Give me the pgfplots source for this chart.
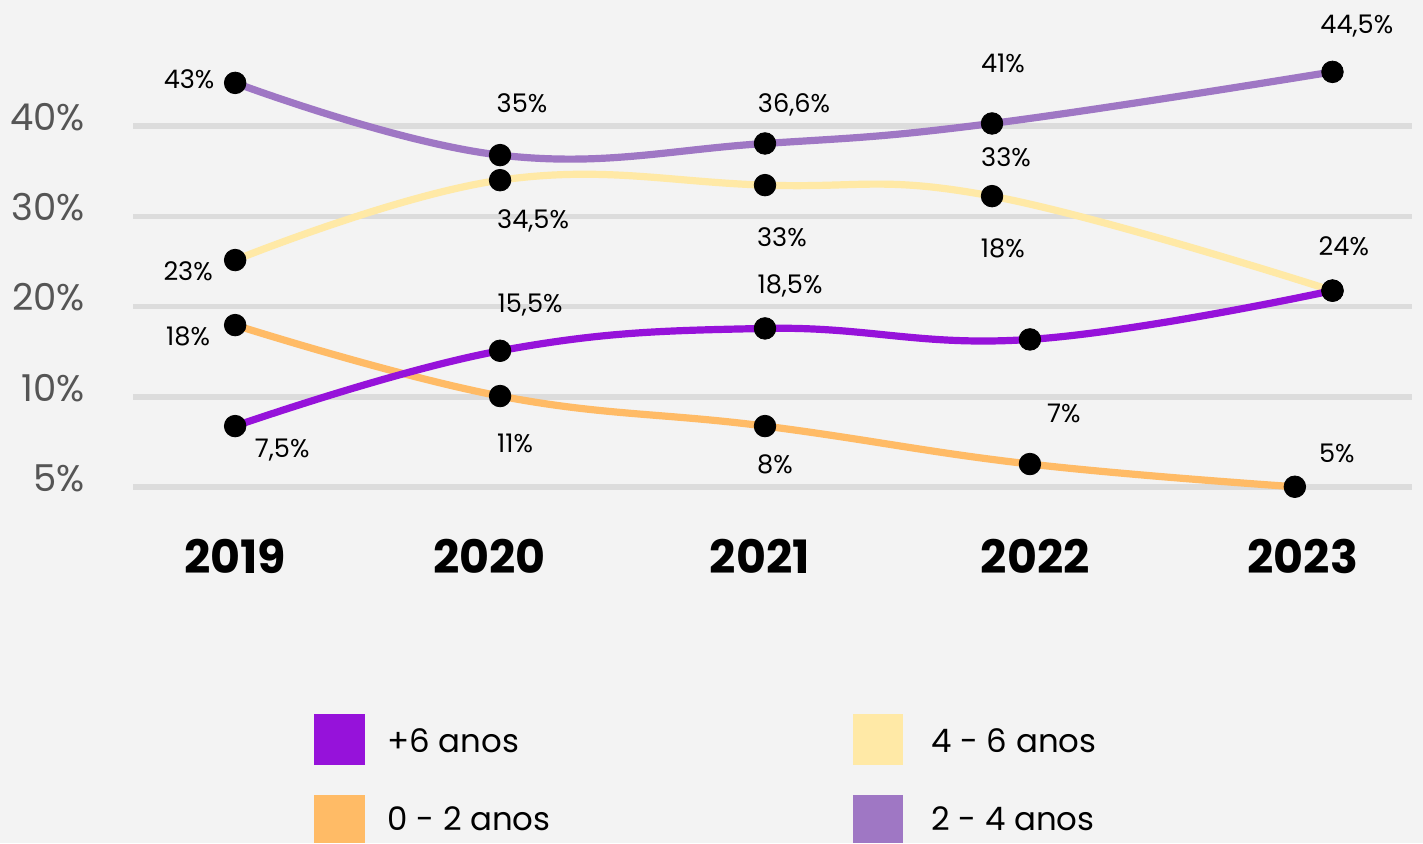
\documentclass[border=0pt]{standalone}
\usepackage{pgfplots}
\pgfplotsset{compat=1.18}
\usepackage{fontspec}
\setmainfont{Poppins}
\definecolor{bg}{HTML}{F3F3F3}
\definecolor{gridc}{HTML}{DCDCDC}
\definecolor{tickc}{HTML}{555555}
\definecolor{dpurple}{HTML}{9612DA}
\definecolor{lpurple}{HTML}{9F77C4}
\definecolor{yellow}{HTML}{FFE9A6}
\definecolor{orange}{HTML}{FFBB66}

\pgfplotsset{
  serie/.style={smooth, tension=0.7, line width=3.6pt, #1, mark=*, mark size=5.4pt,
    mark options={fill=black, draw=black, line width=0.4pt}},
}
\tikzset{
  val/.style={anchor=base, inner sep=0pt, font=\fontsize{12.8}{12.8}\selectfont},
  leg/.style={anchor=base west, inner sep=0pt, font=\fontsize{16.2}{16.2}\selectfont},
}

\begin{document}
\begin{tikzpicture}
\begin{axis}[
  width=711.5pt, height=421.5pt, scale only axis,
  xmin=2018.1132, xmax=2023.4830, ymin=-39.48, ymax=53.98,
  axis line style={draw=none}, major tick length=0pt,
  axis background/.style={fill=bg},
  clip=false,
  xtick={2019,2019.96,2020.98,2022.02,2023.03},
  xticklabels={2019,2020,2021,2022,2023},
  xticklabel style={font=\fontsize{23}{23}\selectfont\bfseries, anchor=base, inner sep=0pt, yshift=135pt},
  ytick={0,10,20,30,40},
  yticklabels={5\%,10\%,20\%,30\%,40\%},
  yticklabel style={font=\fontsize{18.5}{18.5}\selectfont, text=tickc, anchor=east, inner sep=0pt, xshift=42.5pt, yshift=4.5pt},
]
% grid lines
\pgfplotsinvokeforeach{0,10,20,30,40}{
  \draw[gridc, line width=2.8pt] (axis cs:2018.615,#1) -- (axis cs:2023.4415,#1);
}

% 0 - 2 anos
\addplot[serie=orange] coordinates {(2019,17.95)(2020,10.08)(2021,6.75)(2022,2.54)(2023.0,0.02)};
% 4 - 6 anos
\addplot[serie=yellow] coordinates {(2019,25.16)(2020,34.02)(2021,33.47)(2021.857,32.25)(2023.142,21.77)};
% 2 - 4 anos
\addplot[serie=lpurple] coordinates {(2019,44.81)(2020,36.80)(2021,38.09)(2021.857,40.31)(2023.142,46.03)};
% +6 anos
\addplot[serie=dpurple] coordinates {(2019,6.75)(2020,15.10)(2021,17.58)(2022,16.36)(2023.142,21.77)};

% value labels
\node[val] at (rel axis cs:0.1328,0.8956) {43\%};
\node[val] at (rel axis cs:0.3668,0.8671) {35\%};
\node[val] at (rel axis cs:0.5580,0.8671) {36,6\%};
\node[val] at (rel axis cs:0.7048,0.9146) {41\%};
\node[val] at (rel axis cs:0.9536,0.9609) {44,5\%};
\node[val] at (rel axis cs:0.1321,0.6679) {23\%};
\node[val] at (rel axis cs:0.3746,0.7295) {34,5\%};
\node[val] at (rel axis cs:0.5495,0.7082) {33\%};
\node[val] at (rel axis cs:0.7070,0.8031) {33\%};
\node[val] at (rel axis cs:0.9445,0.6975) {24\%};
\node[val] at (rel axis cs:0.1321,0.5907) {18\%};
\node[val] at (rel axis cs:0.3725,0.6299) {15,5\%};
\node[val] at (rel axis cs:0.5552,0.6524) {18,5\%};
\node[val] at (rel axis cs:0.7048,0.6951) {18\%};
\node[val] at (rel axis cs:0.1982,0.4579) {7,5\%};
\node[val] at (rel axis cs:0.3619,0.4638) {11\%};
\node[val] at (rel axis cs:0.5446,0.4389) {8\%};
\node[val] at (rel axis cs:0.7477,0.4994) {7\%};
\node[val] at (rel axis cs:0.9396,0.4520) {5\%};

% legend
\fill[dpurple] (rel axis cs:0.2207,0.0925) rectangle (rel axis cs:0.2565,0.1530);
\fill[orange]  (rel axis cs:0.2207,0) rectangle (rel axis cs:0.2565,0.0569);
\fill[yellow]  (rel axis cs:0.5994,0.0925) rectangle (rel axis cs:0.6346,0.1530);
\fill[lpurple] (rel axis cs:0.5994,0) rectangle (rel axis cs:0.6346,0.0569);
\node[leg] at (rel axis cs:0.2720,0.1068) {+6 anos};
\node[leg] at (rel axis cs:0.2720,0.0142) {0 - 2 anos};
\node[leg] at (rel axis cs:0.6543,0.1068) {4 - 6 anos};
\node[leg] at (rel axis cs:0.6543,0.0142) {2 - 4 anos};
\end{axis}
\end{tikzpicture}
\end{document}
